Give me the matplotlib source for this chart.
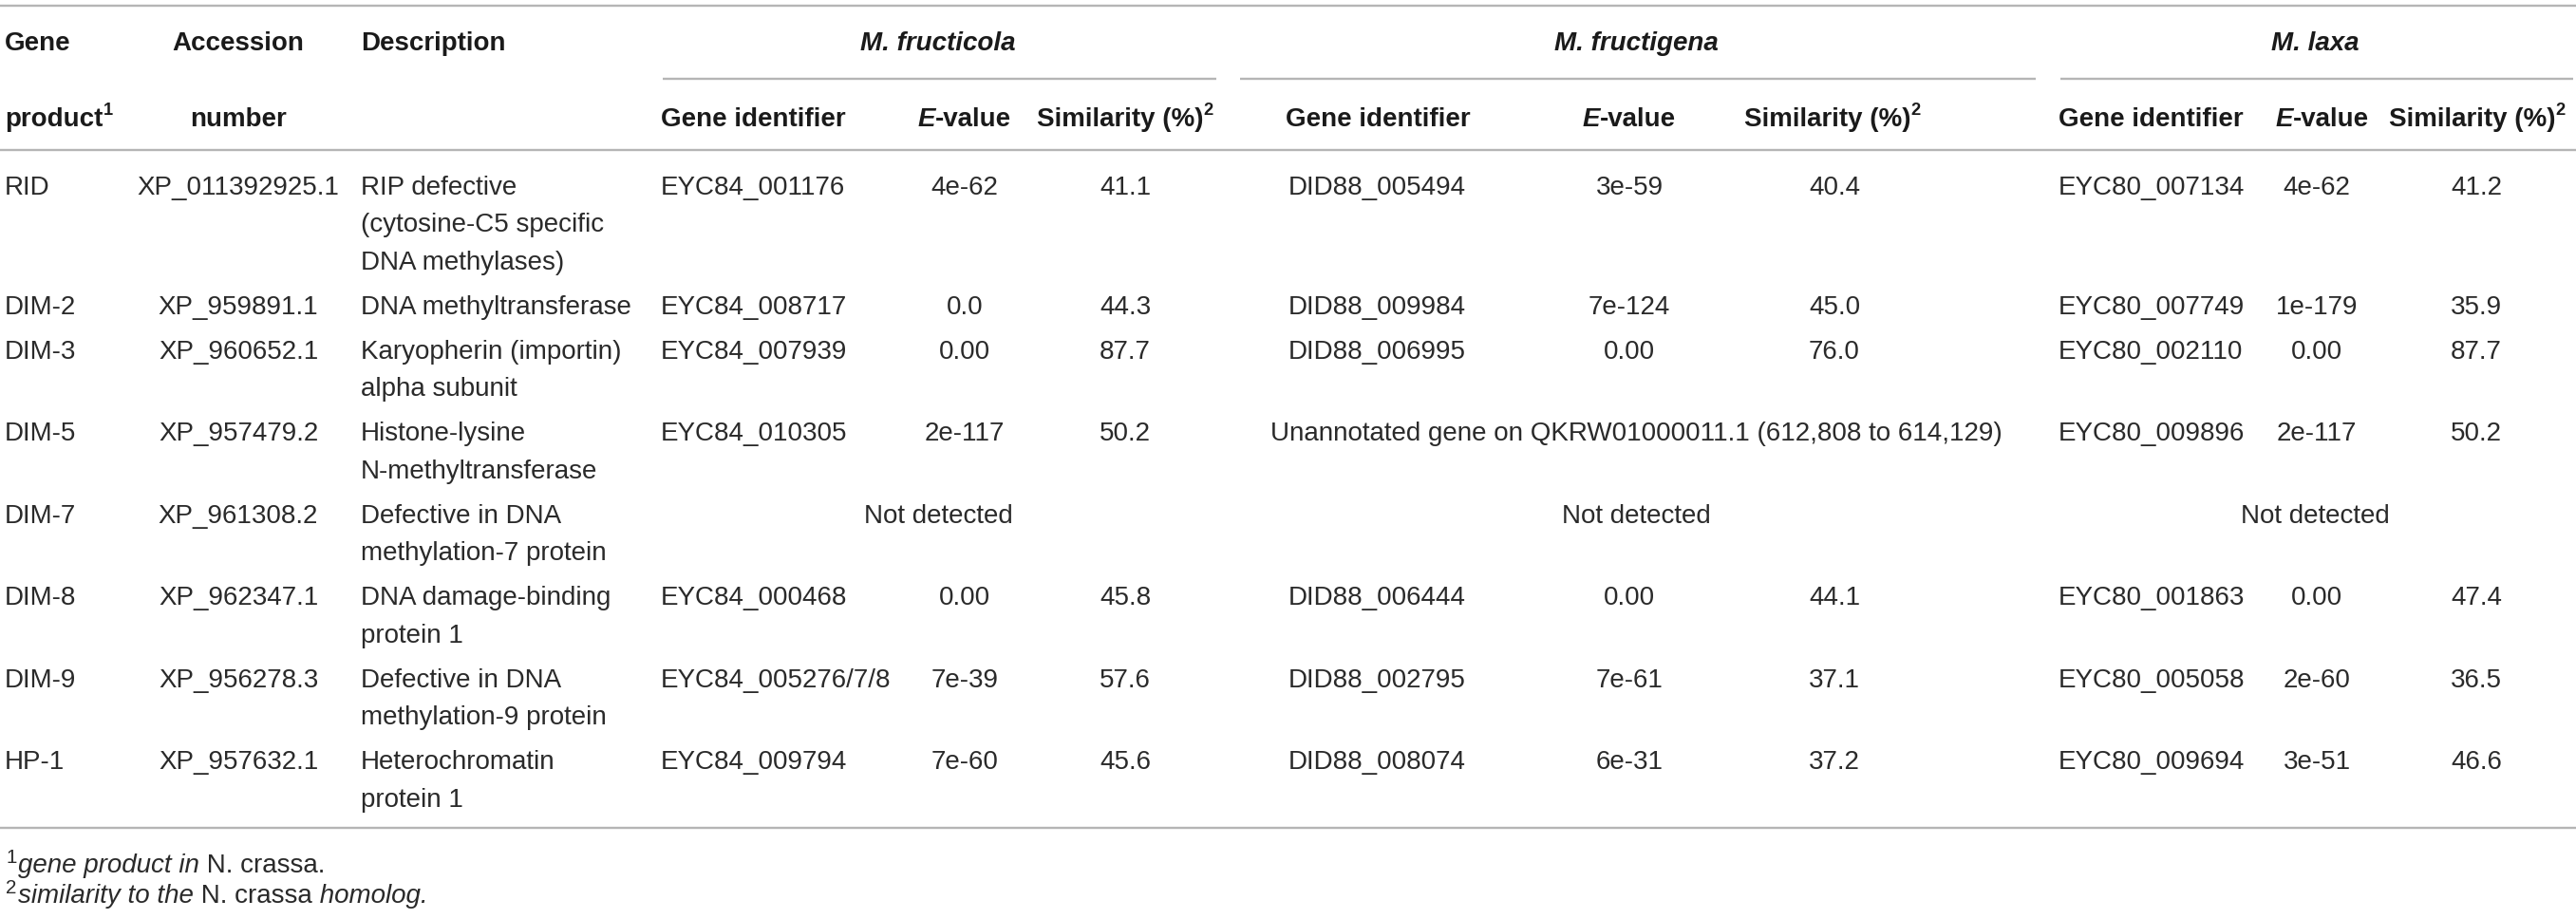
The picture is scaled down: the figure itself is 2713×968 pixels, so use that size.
import matplotlib
matplotlib.use("Agg")
import matplotlib.pyplot as plt

# ---------------- data ----------------
gene_products = ["RID", "DIM-2", "DIM-3", "DIM-5", "DIM-7", "DIM-8", "DIM-9", "HP-1"]
accessions = ["XP_011392925.1", "XP_959891.1", "XP_960652.1", "XP_957479.2",
              "XP_961308.2", "XP_962347.1", "XP_956278.3", "XP_957632.1"]
descriptions = [
    ["RIP defective", "(cytosine-C5 specific", "DNA methylases)"],
    ["DNA methyltransferase"],
    ["Karyopherin (importin)", "alpha subunit"],
    ["Histone-lysine", "N-methyltransferase"],
    ["Defective in DNA", "methylation-7 protein"],
    ["DNA damage-binding", "protein 1"],
    ["Defective in DNA", "methylation-9 protein"],
    ["Heterochromatin", "protein 1"],
]
species = ["M. fructicola", "M. fructigena", "M. laxa"]

fructicola_ids = ["EYC84_001176", "EYC84_008717", "EYC84_007939", "EYC84_010305",
                  None, "EYC84_000468", "EYC84_005276/7/8", "EYC84_009794"]
fructicola_evalues = ["4e-62", "0.0", "0.00", "2e-117", None, "0.00", "7e-39", "7e-60"]
fructicola_similarity = ["41.1", "44.3", "87.7", "50.2", None, "45.8", "57.6", "45.6"]
fructicola_merged = [None, None, None, None, "Not detected", None, None, None]

fructigena_ids = ["DID88_005494", "DID88_009984", "DID88_006995", None,
                  None, "DID88_006444", "DID88_002795", "DID88_008074"]
fructigena_evalues = ["3e-59", "7e-124", "0.00", None, None, "0.00", "7e-61", "6e-31"]
fructigena_similarity = ["40.4", "45.0", "76.0", None, None, "44.1", "37.1", "37.2"]
fructigena_merged = [None, None, None,
                     "Unannotated gene on QKRW01000011.1 (612,808 to 614,129)",
                     "Not detected", None, None, None]

laxa_ids = ["EYC80_007134", "EYC80_007749", "EYC80_002110", "EYC80_009896",
            None, "EYC80_001863", "EYC80_005058", "EYC80_009694"]
laxa_evalues = ["4e-62", "1e-179", "0.00", "2e-117", None, "0.00", "2e-60", "3e-51"]
laxa_similarity = ["41.2", "35.9", "87.7", "50.2", None, "47.4", "36.5", "46.6"]
laxa_merged = [None, None, None, None, "Not detected", None, None, None]

header_top = ["Gene", "Accession", "Description"]
header_bottom = ["product", "number"]
sub_headers = ["Gene identifier", "-value", "Similarity (%)"]
footnote_1 = [("1", "fsup"), ("gene product in", "it"), (" N. crassa.", "rm")]
footnote_2 = [("2", "fsup"), ("similarity to the", "it"), (" N. crassa", "rm"), (" homolog.", "it")]

# ---------------- layout ----------------
W, H = 2713, 968
FONT = "Liberation Sans"
FS = 20.0
FS_PX = FS * 100 / 72.0
CAP = 0.716 * FS_PX
TXT = "#2a2a2a"
HDR = "#1a1a1a"
LINE = "#b5b5b5"

fig = plt.figure(figsize=(W / 100, H / 100), dpi=100)
ax = fig.add_axes([0, 0, 1, 1])
ax.set_xlim(0, W)
ax.set_ylim(H, 0)
ax.axis("off")
renderer = fig.canvas.get_renderer()

STYLES = {
    "rm": dict(family=FONT, color=TXT),
    "it": dict(family=FONT, style="italic", color=TXT),
    "bf": dict(family=FONT, weight="bold", color=HDR),
    "bfit": dict(family=FONT, weight="bold", style="italic", color=HDR),
    "sup": dict(family=FONT, color=TXT),
    "fsup": dict(family=FONT, color=TXT),
    "bsup": dict(family=FONT, weight="bold", color=HDR),
}
SUP_SCALE = {"sup": (0.66, 0.42), "bsup": (0.66, 0.42), "fsup": (0.74, 0.36)}


def width_of(s, size, props):
    a = ax.text(0, 0, "|" + s + "|", fontsize=size, **props)
    b = ax.text(0, 0, "||", fontsize=size, **props)
    w = a.get_window_extent(renderer).width - b.get_window_extent(renderer).width
    a.remove()
    b.remove()
    return w


def runs(x, yc, parts, ha="left", fs=FS):
    fs_px = fs * 100 / 72.0
    base = yc + 0.716 * fs_px / 2
    items = []
    for s, st in parts:
        scale, rise = SUP_SCALE.get(st, (1.0, 0.0))
        size = fs * scale
        w = width_of(s, size, STYLES[st])
        if st == "fsup":
            w += 2
        items.append((s, size, STYLES[st], rise, w))
    total = sum(i[4] for i in items)
    if ha == "center":
        x = x - total / 2
    elif ha == "right":
        x = x - total
    for s, size, props, rise, w in items:
        ax.text(x, base - rise * fs_px, s, fontsize=size, va="baseline", ha="left", **props)
        x += w


def cell(x, yc, s, ha="left"):
    ax.text(x, yc + CAP / 2, s, fontsize=FS, va="baseline", ha=ha, **STYLES["rm"])


def hline(x0, x1, y):
    ax.plot([x0, x1], [y, y], color=LINE, lw=1.7, solid_capstyle="butt")


# column positions
X_GENE, X_ACC, X_DESC = 5, 251, 380
groups = [
    dict(center=988, line=(698, 1281), id_x=696, id_ha="left", id_hx=696,
         ev_x=1016, ev_hx=1016, sim_x=1185, sim_hx=1185,
         ids=fructicola_ids, ev=fructicola_evalues, sim=fructicola_similarity,
         merged=fructicola_merged),
    dict(center=1723, line=(1306, 2144), id_x=1450, id_ha="center", id_hx=1451,
         ev_x=1716, ev_hx=1716, sim_x=1932, sim_hx=1930,
         ids=fructigena_ids, ev=fructigena_evalues, sim=fructigena_similarity,
         merged=fructigena_merged),
    dict(center=2438, line=(2170, 2710), id_x=2168, id_ha="left", id_hx=2168,
         ev_x=2440, ev_hx=2446, sim_x=2608, sim_hx=2609,
         ids=laxa_ids, ev=laxa_evalues, sim=laxa_similarity,
         merged=laxa_merged),
]

# rules
hline(0, W, 6)
hline(0, W, 158)
hline(0, W, 872)
for g in groups:
    hline(g["line"][0], g["line"][1], 83)

# headers
Y_H1, Y_H2 = 43, 123
runs(X_GENE, Y_H1, [(header_top[0], "bf")])
runs(X_ACC, Y_H1, [(header_top[1], "bf")], ha="center")
runs(X_DESC, Y_H1, [(header_top[2], "bf")])
runs(X_GENE, Y_H2, [(header_bottom[0], "bf"), ("1", "bsup")])
runs(X_ACC, Y_H2, [(header_bottom[1], "bf")], ha="center")
for g, sp in zip(groups, species):
    runs(g["center"], Y_H1, [(sp, "bfit")], ha="center")
    runs(g["id_hx"], Y_H2, [(sub_headers[0], "bf")], ha=g["id_ha"])
    runs(g["ev_hx"], Y_H2, [("E", "bfit"), (sub_headers[1], "bf")], ha="center")
    runs(g["sim_hx"], Y_H2, [(sub_headers[2], "bf"), ("2", "bsup")], ha="center")

# body
LINE_GAP, ROW_GAP = 39.5, 47.0
y = 195.0
for i, gp in enumerate(gene_products):
    cell(X_GENE, y, gp)
    cell(X_ACC, y, accessions[i], ha="center")
    for k, dl in enumerate(descriptions[i]):
        cell(X_DESC, y + k * LINE_GAP, dl)
    for g in groups:
        if g["merged"][i] is not None:
            cell(g["center"], y, g["merged"][i], ha="center")
            continue
        if g["ids"][i] is not None:
            cell(g["id_x"], y, g["ids"][i], ha=g["id_ha"])
            cell(g["ev_x"], y, g["ev"][i], ha="center")
            cell(g["sim_x"], y, g["sim"][i], ha="center")
    y += (len(descriptions[i]) - 1) * LINE_GAP + ROW_GAP

# footnotes
runs(6, 909, footnote_1)
runs(6, 941, footnote_2)

fig.savefig("out.png", dpi=100, facecolor="white")
